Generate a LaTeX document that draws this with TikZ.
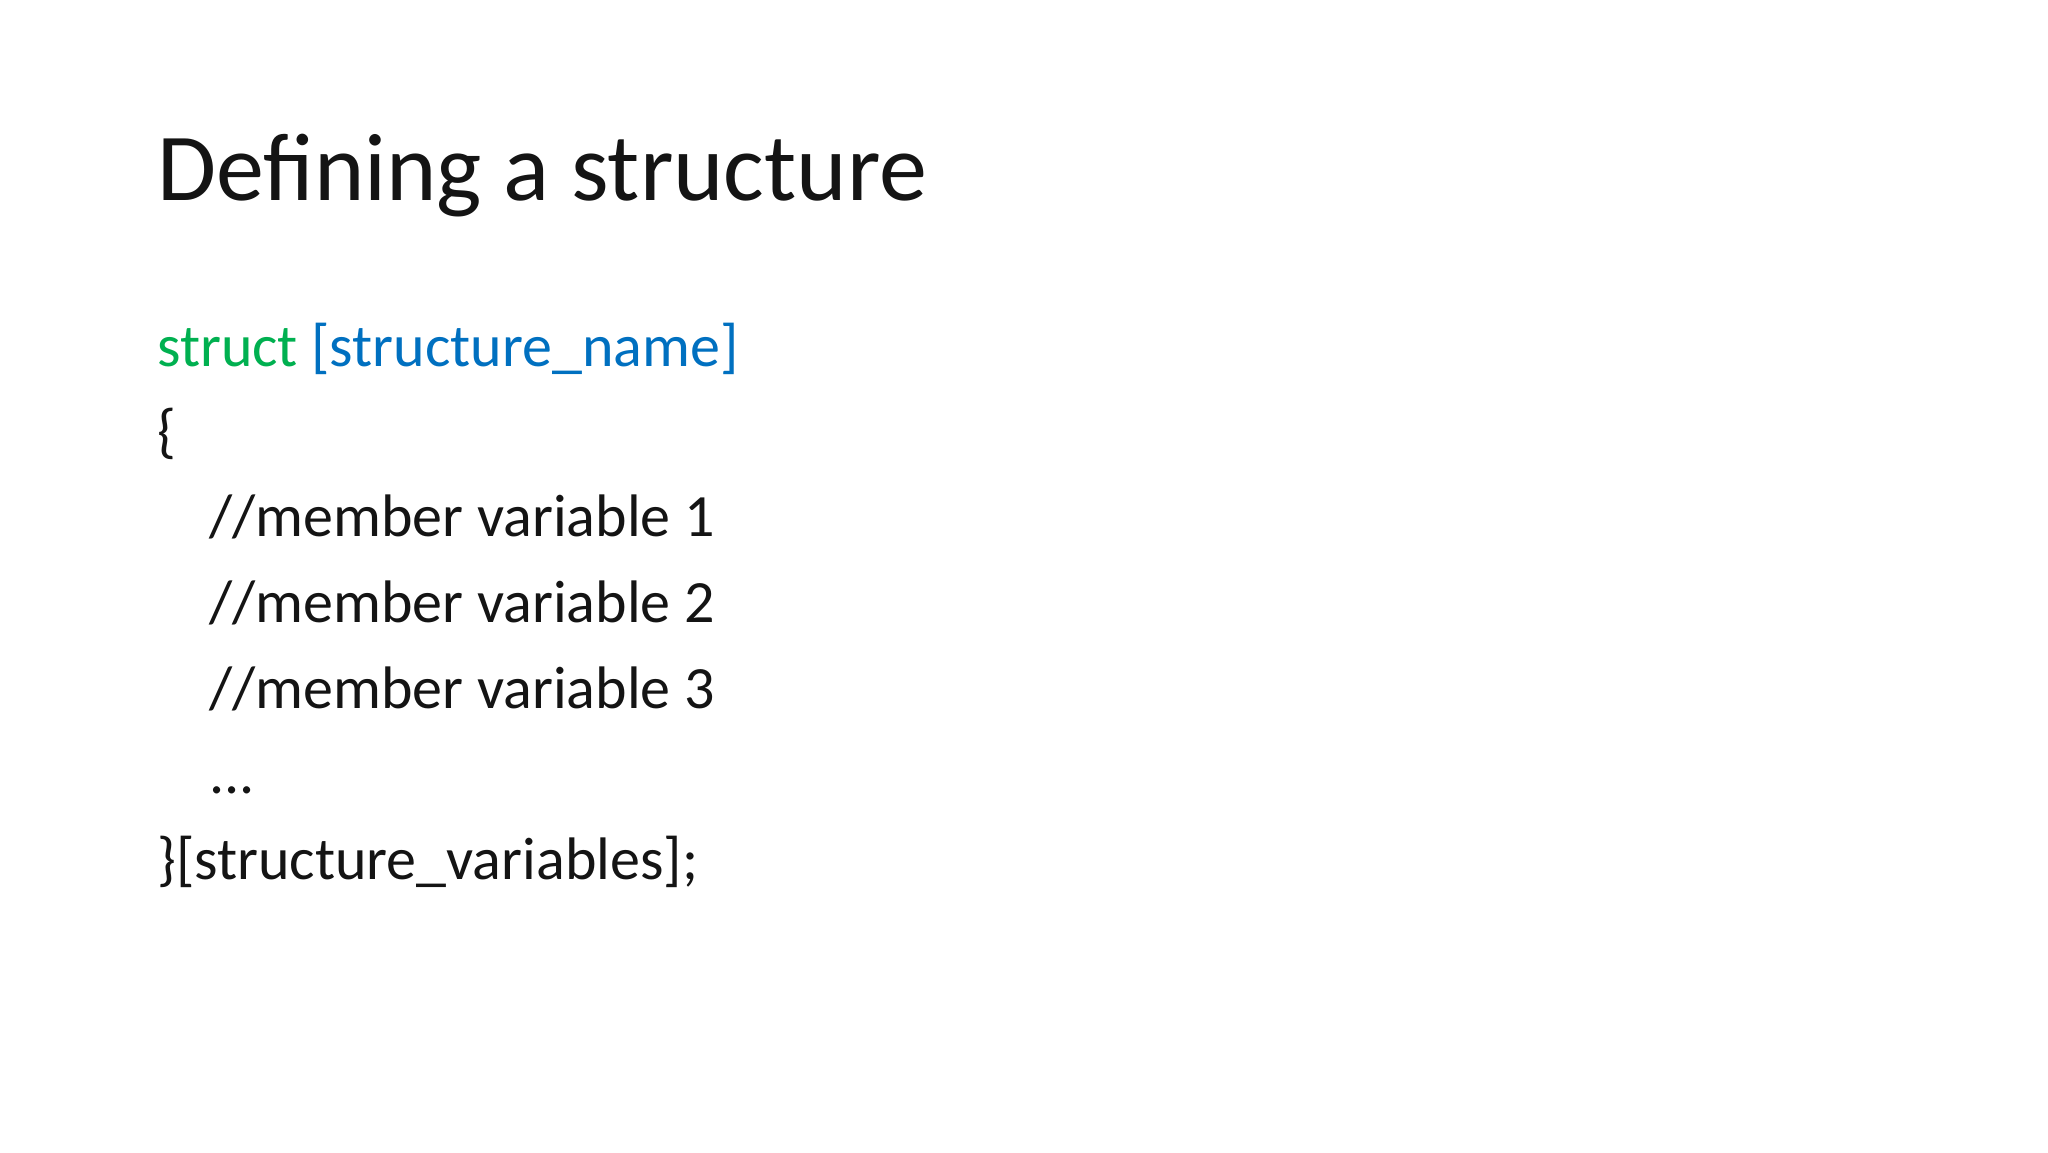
\documentclass[tikz,border=0pt]{standalone}
\usepackage{fontspec}
\setmainfont{Carlito}
\definecolor{kwgreen}{RGB}{0,176,80}
\definecolor{kwblue}{RGB}{0,112,192}
\definecolor{txt}{RGB}{20,20,20}
\begin{document}
\begin{tikzpicture}[x=1pt,y=-1pt,
  title/.style={anchor=base west,inner sep=0pt,font=\fontsize{96}{110}\selectfont,text=txt},
  code/.style={anchor=base west,inner sep=0pt,font=\fontsize{60}{70}\selectfont,text=txt}]
\fill[white] (0,0) rectangle (2048,1152);
\node[title] (t) at (157,200) {Defining a structure};
\node[code] (l1) at (157,366) {\textcolor{kwgreen}{struct} \textcolor{kwblue}{[structure\_name]}};
\node[code] (l2) at (157,451) {\{};
\node[code] (l3) at (209,536) {//member variable 1};
\node[code] (l4) at (209,622) {//member variable 2};
\node[code] (l5) at (209,708) {//member variable 3};
\node[code] (l6) at (209,793) {...};
\node[code] (l7) at (157,879) {\}[structure\_variables];};
\end{tikzpicture}
\end{document}
